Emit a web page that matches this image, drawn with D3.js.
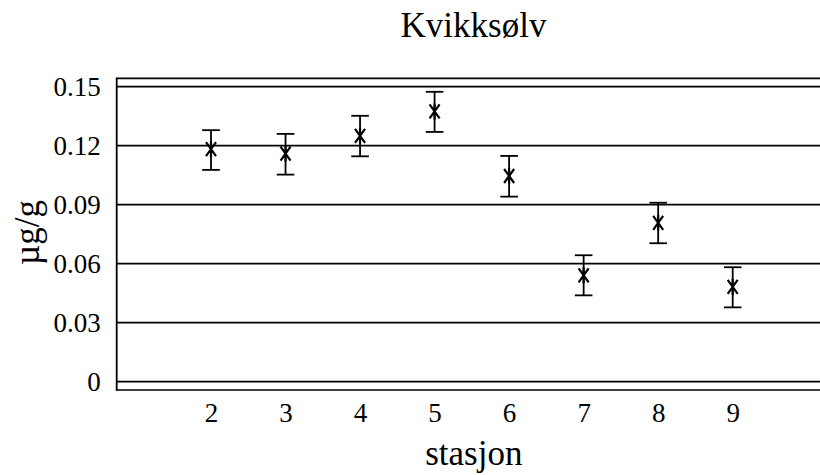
<!DOCTYPE html>
<html><head><meta charset="utf-8">
<script src="https://cdn.jsdelivr.net/npm/d3@7"></script>
<style>body{margin:0;background:#fff}svg{display:block}text{font-family:"Liberation Serif","Times New Roman",serif;fill:#000}</style>
</head><body><svg id="c" width="820" height="475"></svg>
<script>
const stations = [2, 3, 4, 5, 6, 7, 8, 9];
const means = [0.1183, 0.1160, 0.1250, 0.1374, 0.1046, 0.0541, 0.0808, 0.0482];
const lower = [0.1077, 0.1053, 0.1146, 0.1270, 0.0941, 0.0439, 0.0704, 0.0378];
const upper = [0.1279, 0.1260, 0.1352, 0.1474, 0.1148, 0.0643, 0.0910, 0.0582];
const yTicks = [0, 0.03, 0.06, 0.09, 0.12, 0.15];
const yTickLabels = ["0", "0.03", "0.06", "0.09", "0.12", "0.15"];
const title = "Kvikksølv", xTitle = "stasjon", yTitle = "µg/g";

const svg = d3.select("#c");
const pLeft = 116.7, pRight = 820, pTop = 78.3, pBottom = 390;
const x = d3.scaleLinear().domain([2, 9]).range([211, 732.7]);
const y = d3.scaleLinear().domain([0, 0.15]).range([381.7, 86.7]);

// gridlines
svg.append("g").selectAll("line").data(yTicks).join("line")
  .attr("x1", pLeft).attr("x2", pRight)
  .attr("y1", d => y(d)).attr("y2", d => y(d))
  .attr("stroke", "#000").attr("stroke-width", 1.7);
// frame lines
svg.append("line").attr("x1", pLeft).attr("x2", pRight).attr("y1", pTop).attr("y2", pTop).attr("stroke", "#000").attr("stroke-width", 1.7);
svg.append("line").attr("x1", pLeft).attr("x2", pRight).attr("y1", pBottom).attr("y2", pBottom).attr("stroke", "#000").attr("stroke-width", 1.7);
svg.append("line").attr("x1", pLeft).attr("x2", pLeft).attr("y1", pTop - 0.85).attr("y2", pBottom + 0.85).attr("stroke", "#000").attr("stroke-width", 1.8);

// y axis labels
const yAxis = d3.axisLeft(y).tickValues(yTicks).tickFormat((d, i) => yTickLabels[i]).tickSize(0).tickPadding(16);
const ya = svg.append("g").attr("transform", `translate(${pLeft},0)`).call(yAxis);
ya.select(".domain").remove();
ya.selectAll("text").attr("font-size", 27).attr("fill", "#000");

// x axis labels
const xAxis = d3.axisBottom(x).tickValues(stations).tickFormat(d3.format("d")).tickSize(0).tickPadding(0);
const xa = svg.append("g").attr("transform", `translate(0,${pBottom})`).call(xAxis);
xa.select(".domain").remove();
xa.selectAll("text").attr("font-size", 27).attr("fill", "#000")
  .attr("dy", null).attr("y", 31.5);

// error bars
const g = svg.append("g").attr("stroke", "#000").attr("stroke-width", 1.8).attr("fill", "none");
const data = stations.map((s, i) => ({s, m: means[i], lo: lower[i], hi: upper[i]}));
const eb = g.selectAll("g").data(data).join("g");
eb.append("line").attr("x1", d => x(d.s)).attr("x2", d => x(d.s)).attr("y1", d => y(d.lo)).attr("y2", d => y(d.hi));
eb.append("line").attr("x1", d => x(d.s) - 8.8).attr("x2", d => x(d.s) + 8.8).attr("y1", d => y(d.lo)).attr("y2", d => y(d.lo));
eb.append("line").attr("x1", d => x(d.s) - 8.8).attr("x2", d => x(d.s) + 8.8).attr("y1", d => y(d.hi)).attr("y2", d => y(d.hi));
// asterisk markers
const star = d3.path();
star.moveTo(0, -8); star.lineTo(0, 8);
star.moveTo(-5, -7); star.lineTo(5, 7);
star.moveTo(-5, 7); star.lineTo(5, -7);
eb.append("path").attr("d", star.toString()).attr("stroke-width", 2.2)
  .attr("transform", d => `translate(${x(d.s)},${y(d.m)})`);

// titles
svg.append("text").attr("x", 473.5).attr("y", 36.7).attr("text-anchor", "middle").attr("font-size", 35).text(title);
svg.append("text").attr("x", 473.8).attr("y", 465).attr("text-anchor", "middle").attr("font-size", 35).text(xTitle);
svg.append("text").attr("transform", "translate(39,232.5) rotate(-90)").attr("text-anchor", "middle").attr("font-size", 35).text(yTitle);
</script></body></html>
